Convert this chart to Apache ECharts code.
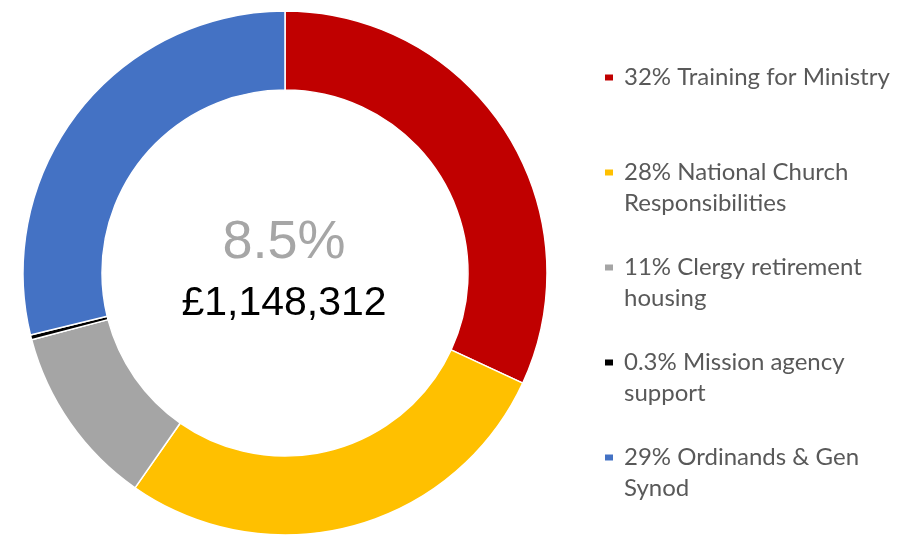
<!DOCTYPE html>
<html>
<head>
<meta charset="utf-8">
<script src="https://cdn.jsdelivr.net/npm/echarts@6/dist/echarts.min.js"></script>
<style>
  html, body { margin: 0; padding: 0; background: #fff; }
  #chart { width: 902px; height: 538px; }
</style>
</head>
<body>
<div id="chart"></div>
<script>
// slice shares (%)
const categories = [
  "Training for Ministry",
  "National Church Responsibilities",
  "Clergy retirement housing",
  "Mission agency support",
  "Ordinands & Gen Synod",
]
const shares = [31.9, 27.8, 11.2, 0.3, 28.8]
const legendLabels = [
  ["32% Training for Ministry"],
  ["28% National Church", "Responsibilities"],
  ["11% Clergy retirement", "housing"],
  ["0.3% Mission agency", "support"],
  ["29% Ordinands & Gen", "Synod"],
]
const colors = ["#c00000", "#ffc000", "#a5a5a5", "#000000", "#4472c4"]
const centerPct = "8.5%"
const centerAmount = "£1,148,312"

const chart = echarts.init(document.getElementById("chart"))
const lh = 31

// legend text is centred on its marker, so pad every label to 3 lines
// with the first real line in the middle -> marker sits on line one
const legendText = (name) => {
  const lines = legendLabels[categories.indexOf(name)]
  return " \n" + lines[0] + "\n" + (lines[1] || " ")
}

const option = {
  animation: false,
  color: colors,
  legend: {
    orient: "vertical",
    left: 598,
    top: 26,
    itemWidth: 10,
    itemHeight: 8,
    itemGap: 2,
    icon: "rect",
    selectedMode: false,
    formatter: legendText,
    data: categories,
    textStyle: {
      fontFamily: "Lato",
      fontSize: 24,
      lineHeight: lh,
      color: "#595959",
      padding: [0, 0, 0, 5],
    },
  },
  graphic: [
    {
      type: "text",
      x: 284,
      y: 243,
      style: {
        text: centerPct,
        align: "center",
        verticalAlign: "middle",
        font: "54px 'Liberation Sans'",
        fill: "#a6a6a6",
      },
    },
    {
      type: "text",
      x: 284,
      y: 304,
      style: {
        text: centerAmount,
        align: "center",
        verticalAlign: "middle",
        font: "41px 'Liberation Sans'",
        fill: "#000000",
      },
    },
  ],
  series: [
    {
      type: "pie",
      center: [285, 273],
      radius: [183, 262],
      startAngle: 90,
      clockwise: true,
      avoidLabelOverlap: false,
      label: { show: false },
      labelLine: { show: false },
      itemStyle: { borderColor: "#fff", borderWidth: 1.5 },
      emphasis: { disabled: true },
      data: categories.map((name, i) => ({ name, value: shares[i] })),
    },
  ],
}
chart.setOption(option)
</script>
</body>
</html>
